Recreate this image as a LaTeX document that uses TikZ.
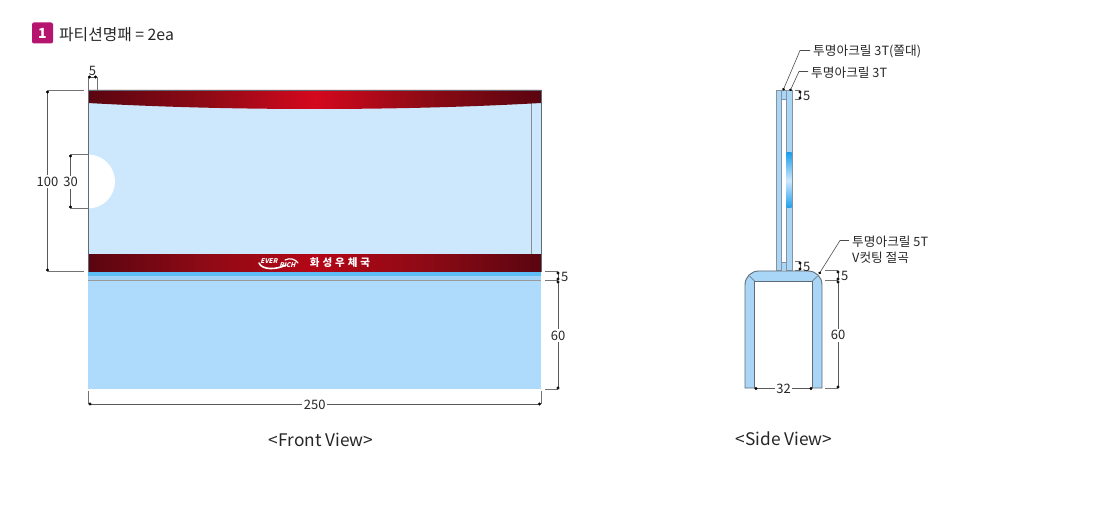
\documentclass[tikz,border=0pt]{standalone}
\usepackage{fontspec}
\setmainfont{Noto Sans CJK KR}
\usetikzlibrary{arrows.meta}
\definecolor{panel}{HTML}{CDE8FC}
\definecolor{lower}{HTML}{AEDBFC}
\definecolor{strip}{HTML}{5FBDF5}
\definecolor{tube}{HTML}{A9D6F7}
\definecolor{edge}{HTML}{5F6B75}
\definecolor{wall}{HTML}{87929C}
\definecolor{patchblue}{HTML}{1E9FEE}
\definecolor{redA}{HTML}{5A0510}
\definecolor{redB}{HTML}{8E0A15}
\definecolor{redC}{HTML}{D4081E}
\definecolor{redD}{HTML}{B40616}
\definecolor{badge}{HTML}{B5146F}
\pgfdeclarehorizontalshading{topband}{100bp}{color(0bp)=(redA);color(25bp)=(redA);color(38bp)=(redB);color(50bp)=(redC);color(62bp)=(redB);color(75bp)=(redA);color(100bp)=(redA)}
\pgfdeclarehorizontalshading{lowband}{100bp}{color(0bp)=(redA);color(25bp)=(redA);color(38bp)=(redB);color(50bp)=(redD);color(62bp)=(redB);color(75bp)=(redA);color(100bp)=(redA)}
\pgfdeclareverticalshading{patch}{100bp}{color(0bp)=(patchblue);color(25bp)=(patchblue);color(50bp)=(panel);color(75bp)=(patchblue);color(100bp)=(patchblue)}
\tikzset{
  x=1pt,y=-1pt,
  dimline/.style={draw=black!65,line width=0.6pt,{Circle[length=3pt,black]}-{Circle[length=3pt,black]}},
  extline/.style={draw=black!55,line width=0.6pt},
  leader/.style={draw=black!70,line width=0.6pt},
  dimtext/.style={font=\fontsize{13}{14}\selectfont,text=black!85,inner sep=1.5pt,yshift=-0.7pt},
  dimgap/.style={dimtext,fill=white},
  calltext/.style={font=\fontsize{12.7}{14}\selectfont,text=black!85,anchor=west,inner sep=0pt},
  viewtext/.style={font=\fontsize{17.3}{19}\selectfont,text=black!85},
  tubewall/.style={fill=tube,draw=wall,line width=1pt},
}
\begin{document}
\begin{tikzpicture}
\useasboundingbox (0,0) rectangle (1100,518);
% heading
\node[fill=badge,rounded corners=2pt,minimum width=21pt,minimum height=21pt,inner sep=0pt,text=white,font=\fontsize{14}{14}\selectfont\bfseries] (badge) at (42.5,33) {1};
\node[anchor=west,inner sep=0pt,font=\fontsize{15.8}{17}\selectfont,text=black!85] (title) at (59,35) {파티션명패 = 2ea};
% front view
\fill[panel] (88,100) rectangle (541,256);
\fill[white] (88,154.5) .. controls (102.9,154.5) and (115,166.6) .. (115,181.5) .. controls (115,196.4) and (102.9,208.5) .. (88,208.5) -- cycle;
\draw[draw=black!45,line width=0.6pt] (531.5,103) -- (531.5,256);
\shade[shading=topband] (88,90) -- (541,90) -- (541,103) .. controls (400,111) and (229,111) .. (88,103) -- cycle;
\shade[shading=lowband] (88,255) rectangle (541,272);
\fill[strip] (88,272) rectangle (541,276.5);
\fill[tube!90!strip] (88,276.5) rectangle (541,280);
\fill[lower] (88,280.5) rectangle (541,389);
\draw[draw=black!40,line width=0.6pt] (88,280.5) -- (541,280.5);
\draw[edge,line width=0.8pt] (88,90) -- (541,90);
\draw[edge,line width=0.8pt] (88,90) -- (88,272);
\draw[edge,line width=0.8pt] (541,90) -- (541,272);
% logo
\draw[white,line width=1.6pt,line cap=round] (259,263) .. controls (262,270) and (276,270) .. (286,265);
\draw[white,line width=1.2pt,line cap=round] (285,260) .. controls (290,257.5) and (295,259) .. (298,263);
\begin{scope}[shift={(269.5,261)},xslant=0.25]
\node[transform shape,text=white,font=\fontsize{6.5}{7}\selectfont\bfseries,inner sep=0pt] (ever) at (0,0) {EVER};
\end{scope}
\begin{scope}[shift={(288,265.5)},xslant=0.25]
\node[transform shape,text=white,font=\fontsize{6.5}{7}\selectfont\bfseries,inner sep=0pt] (rich) at (0,0) {RICH};
\end{scope}
\node[text=white,font=\fontsize{10.5}{12}\selectfont\bfseries,inner sep=0pt] (post) at (340,262.5) {화\hspace{3pt}성\hspace{3pt}우\hspace{3pt}체\hspace{3pt}국};
% front dimensions
\coordinate (f5a) at (88,77); \coordinate (f5b) at (97,77);
\draw[extline] (88,77) -- (88,90); \draw[extline] (97,77) -- (97,90);
\draw[dimline] (f5a) -- (f5b);
\node[dimtext] (l5top) at (92.5,70) {5};
\coordinate (h0) at (47.5,90.5); \coordinate (h1) at (47.5,271.5);
\draw[extline] (h0) -- (84,90.5); \draw[extline] (h1) -- (84,271.5);
\draw[dimline] (h0) -- node[dimgap] (l100) {100} (h1);
\coordinate (c0) at (70.5,154.5); \coordinate (c1) at (70.5,208.5);
\draw[extline] (c0) -- (88,154.5); \draw[extline] (c1) -- (88,208.5);
\draw[dimline] (c0) -- node[dimgap] (l30) {30} (c1);
\coordinate (r0) at (558,271.5); \coordinate (r1) at (558,280.5); \coordinate (r2) at (558,389.5);
\draw[extline] (545,271.5) -- (r0); \draw[extline] (545,280.5) -- (r1); \draw[extline] (545,389.5) -- (r2);
\draw[dimline] (r0) -- (r1);
\node[dimtext,anchor=west] (l5r) at (559.5,276) {5};
\draw[dimline] (r1) -- node[dimgap] (l60) {60} (r2);
\coordinate (w0) at (88.5,404); \coordinate (w1) at (541,404);
\draw[extline] (w0) -- (88.5,391); \draw[extline] (w1) -- (541,391);
\draw[dimline] (w0) -- node[dimgap,pos=0.5] (l250) {250} (w1);
\node[viewtext] (front) at (321,439.5) {<Front View>};
% side view
\fill[tube] (781,91) rectangle (786,99); \fill[tube] (781,262) rectangle (786,270);
\draw[tubewall] (776,90.5) rectangle (781,271);
\draw[tubewall] (786,90.5) rectangle (792,271);
\shade[shading=patch] (786.5,153) rectangle (791.5,208);
\draw[wall,line width=0.6pt] (781,99.5) -- (786,99.5);
\draw[wall,line width=0.6pt] (781,262) -- (786,262);
\draw[wall,line width=1pt] (776,90.5) -- (792,90.5);
\draw[fill=tube,draw=edge,line width=0.9pt] (745,388) -- (745,285) .. controls (745,277) and (751,271) .. (759,271) -- (808,271) .. controls (816,271) and (822,277) .. (822,285) -- (822,388) -- cycle;
\fill[white] (754.5,281) rectangle (812.5,389);
\draw[edge,line width=0.9pt] (754.5,388) -- (754.5,281) -- (812.5,281) -- (812.5,388);
\draw[edge,line width=0.5pt] (749.5,276) -- (754.5,281);
\draw[edge,line width=0.5pt] (817.5,276) -- (812.5,281);
% side dimensions
\coordinate (s0) at (800,90.5); \coordinate (s1) at (800,99.5);
\draw[extline] (795,90.5) -- (s0); \draw[extline] (795,99.5) -- (s1);
\draw[dimline] (s0) -- (s1);
\node[dimtext,anchor=west] (l5s) at (801.5,95) {5};
\coordinate (t0) at (800,261.5); \coordinate (t1) at (800,270.5);
\draw[extline] (795,261.5) -- (t0); \draw[extline] (795,270.5) -- (t1);
\draw[dimline] (t0) -- (t1);
\node[dimtext,anchor=west] (l5t) at (801.5,266) {5};
\coordinate (u0) at (838,270.5); \coordinate (u1) at (838,280.5); \coordinate (u2) at (838,388.5);
\draw[extline] (825,270.5) -- (u0); \draw[extline] (825,280.5) -- (u1); \draw[extline] (825,388.5) -- (u2);
\draw[dimline] (u0) -- (u1);
\node[dimtext,anchor=west] (l5u) at (839.5,275.5) {5};
\draw[dimline] (u1) -- node[dimgap] (l60s) {60} (u2);
\coordinate (v0) at (754.5,388.5); \coordinate (v1) at (812.5,388.5);
\draw[dimline] (v0) -- node[dimgap] (l32) {32} (v1);
\node[viewtext] (side) at (784,438.5) {<Side View>};
% callouts
\node[calltext] (c1t) at (813,51.5) {투명아크릴 3T(쫄대)};
\node[calltext] (c2t) at (811,73) {투명아크릴 3T};
\node[calltext] (c3t) at (852,242) {투명아크릴 5T};
\node[calltext] (c3b) at (852,258) {V컷팅 절곡};
\coordinate (a1) at (783,90.5); \coordinate (a2) at (790,91); \coordinate (a3) at (819,274);
\coordinate (e1) at (800,50.5); \coordinate (e2) at (799,71.5); \coordinate (e3) at (840,240.5);
\coordinate (f1) at (810,50.5); \coordinate (f2) at (808,71.5); \coordinate (f3) at (849,240.5);
\draw[leader,{Circle[length=2.6pt,black]}-] (a1) -- (e1) -- (f1);
\draw[leader,{Circle[length=2.6pt,black]}-] (a2) -- (e2) -- (f2);
\draw[leader,{Circle[length=2.6pt,black]}-] (a3) -- (e3) -- (f3);
\end{tikzpicture}
\end{document}
